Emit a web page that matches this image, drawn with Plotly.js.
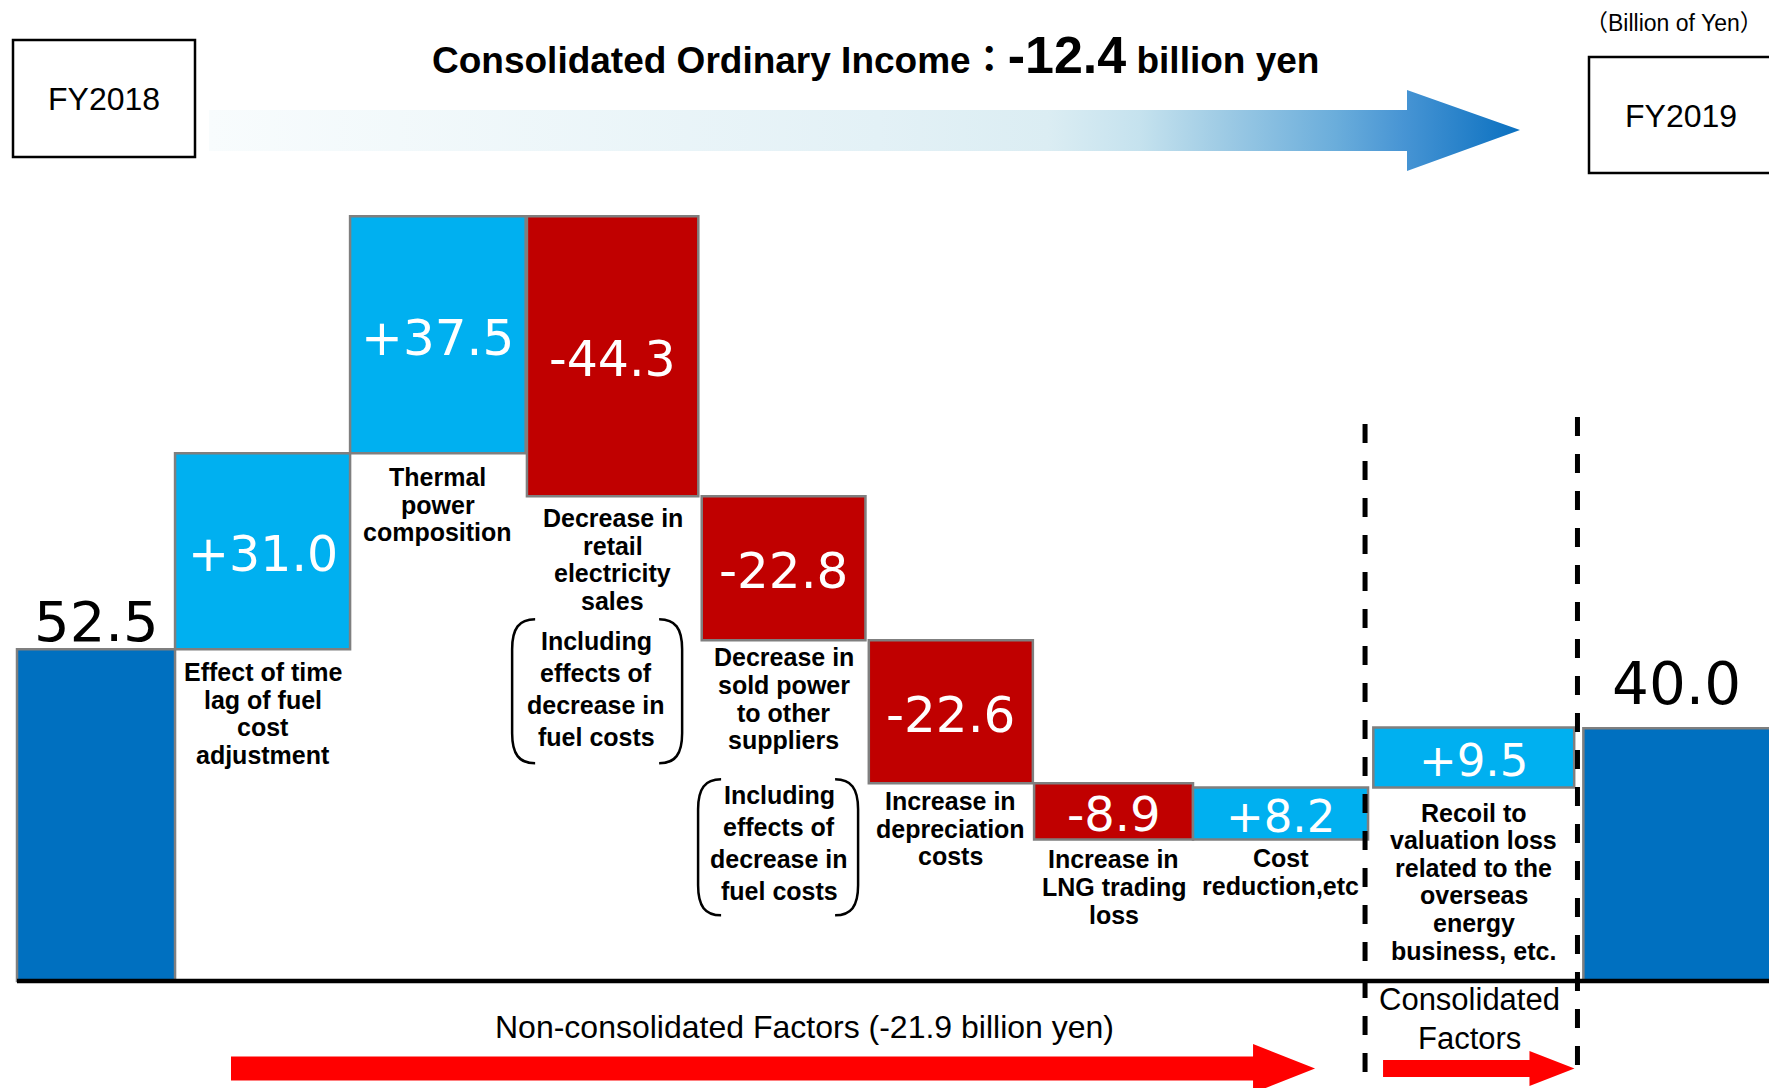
<!DOCTYPE html>
<html>
<head>
<meta charset="utf-8">
<script src="https://cdn.plot.ly/plotly-3.0.1.min.js"></script>
<style>
html,body{margin:0;padding:0;background:#ffffff;}
#chart{width:1769px;height:1088px;}
</style>
</head>
<body>
<div id="chart"></div>
<script>
// ---------------- DATA ----------------
const categories = [
  'FY2018',
  'Effect of time\nlag of fuel\ncost\nadjustment',
  'Thermal\npower\ncomposition',
  'Decrease in\nretail\nelectricity\nsales',
  'Decrease in\nsold power\nto other\nsuppliers',
  'Increase in\ndepreciation\ncosts',
  'Increase in\nLNG trading\nloss',
  'Cost\nreduction,etc',
  'Recoil to\nvaluation loss\nrelated to the\noverseas\nenergy\nbusiness, etc.',
  'FY2019'
];
const values   = [52.5, 31.0, 37.5, -44.3, -22.8, -22.6, -8.9, 8.2, 9.5, 40.0];
const measures = ['absolute','relative','relative','relative','relative','relative','relative','relative','relative','absolute'];
const valueLabels = ['52.5','+31.0','+37.5','-44.3','-22.8','-22.6','-8.9','+8.2','+9.5','40.0'];
const noteText = 'Including\neffects of\ndecrease in\nfuel costs';
const noteCategories = [3, 4];
const titleMain  = 'Consolidated Ordinary Income';
const titleValue = '-12.4';
const titleUnit  = 'billion yen';
const startBoxLabel = 'FY2018';
const endBoxLabel   = 'FY2019';
const unitLabel = '（Billion of Yen）';
const nonConsolidatedLabel = 'Non-consolidated Factors (-21.9 billion yen)';
const consolidatedLabel = 'Consolidated\nFactors';

// ---------------- STYLE / LAYOUT ----------------
const W = 1769, H = 1088;
const U = 173.3;            // px per slot unit
const LEFT_PX = 17, BASE_PX = 981, K = 6.32;   // px per billion yen
const X0 = -LEFT_PX / U, X1 = (W - LEFT_PX) / U;
const Y1 = BASE_PX / K, Y0 = -(H - BASE_PX) / K;
const xPx = x => (x - X0) / (X1 - X0) * W;
const yPx = y => (Y1 - y) / (Y1 - Y0) * H;

const slotWidths = [0.912, 1.01, 1.013, 1.004, 0.969, 0.961, 0.917, 1.01, 1.22, 1.125];
const barFill    = [1, 1, 1, 0.985, 0.975, 0.985, 1, 1, 0.95, 0.96];
const valueFontSizes = [56, 49, 50, 49, 50, 50, 48, 45, 45, 58];
const labelOffsets = [0, 23, 24, 22, 17, 18, 20, 19, 25, 0];
const LABEL_FS = 25;
const LINE_H = 27.6;
const noteStyle = {
  3: {left: -100.5, right: 69.5, textDx: -16.5, top: 123, bottom: 267, first: 145},
  4: {left: -85.5,  right: 74.5, textDx: -4.5,  top: 139, bottom: 275, first: 155}
};
const COL_UP = '#00B0F0', COL_DOWN = '#C00000', COL_TOTAL = '#0070C0';
const BOLD = 'Liberation Sans, Arial, Helvetica, sans-serif';
const NUMF = 'DejaVu Sans, Verdana, sans-serif';

// ---------------- COMPUTE WATERFALL ----------------
const bounds = [0];
slotWidths.forEach(w => bounds.push(bounds[bounds.length - 1] + w));
const centers = slotWidths.map((w, i) => bounds[i] + w / 2);
const widths  = slotWidths.map((w, i) => w * barFill[i]);
const bases = [], deltas = [], colors = [];
let level = 0;
values.forEach((v, i) => {
  if (measures[i] === 'absolute') { bases.push(0); level = v; colors.push(COL_TOTAL); }
  else { bases.push(level); level += v; colors.push(v >= 0 ? COL_UP : COL_DOWN); }
  deltas.push(v);
});

const annotations = [];
const shapes = [];
function ann(o) { annotations.push(Object.assign({showarrow: false, xref: 'x2', yref: 'y2', xanchor: 'center', yanchor: 'middle'}, o)); }
function multiLine(text, x, yFirst, lh, font) {
  text.split('\n').forEach((line, j) => ann({x: x, y: yFirst + j * lh, text: line, font: font}));
}
const boldLines = t => '<b>' + t.split('\n').join('</b>\n<b>') + '</b>';

values.forEach((v, i) => {
  const top = Math.max(bases[i], bases[i] + deltas[i]);
  const bot = Math.min(bases[i], bases[i] + deltas[i]);
  const cx = xPx(centers[i]);
  const fs = valueFontSizes[i];
  if (measures[i] === 'absolute') {
    const gap = i === 0 ? 7 : 23;
    ann({x: cx, y: yPx(top) - gap - 0.365 * fs, text: valueLabels[i], font: {family: NUMF, size: fs, color: '#000000'}});
  } else {
    ann({x: cx, y: (yPx(top) + yPx(bot)) / 2 + 3, text: valueLabels[i], font: {family: NUMF, size: fs, color: '#FFFFFF'}});
    multiLine(boldLines(categories[i]), cx, yPx(bot) + labelOffsets[i], LINE_H,
      {family: BOLD, size: LABEL_FS, color: '#000000'});
  }
});

// notes in brackets
noteCategories.forEach(i => {
  const s = noteStyle[i];
  const bot = Math.min(bases[i], bases[i] + deltas[i]);
  const cx = xPx(centers[i]);
  const yb = yPx(bot);
  multiLine(boldLines(noteText), cx + s.textDx, yb + s.first, 32,
    {family: BOLD, size: LABEL_FS, color: '#000000'});
  const xL = cx + s.left, xR = cx + s.right, yT = yb + s.top, yB = yb + s.bottom;
  const pL = `M ${xL+23},${yT} C ${xL+7},${yT} ${xL},${yT+9} ${xL},${yT+30} L ${xL},${yB-30} C ${xL},${yB-9} ${xL+7},${yB} ${xL+23},${yB}`;
  const pR = `M ${xR-23},${yT} C ${xR-7},${yT} ${xR},${yT+9} ${xR},${yT+30} L ${xR},${yB-30} C ${xR},${yB-9} ${xR-7},${yB} ${xR-23},${yB}`;
  [pL, pR].forEach(p => shapes.push({type: 'path', xref: 'x2', yref: 'y2', path: p, line: {color: '#000000', width: 2.5}}));
});

// baseline
shapes.push({type: 'line', xref: 'x2', yref: 'y', x0: LEFT_PX, x1: W, y0: 0, y1: 0, line: {color: '#000000', width: 4.5}});

// dashed separators
const dashL = xPx(bounds[8]), dashR = xPx(bounds[9]);
shapes.push({type: 'line', xref: 'x2', yref: 'y2', x0: dashL - 3, x1: dashL - 3, y0: 424, y1: 1076, line: {color: '#000000', width: 5, dash: '19px,18px'}});
shapes.push({type: 'line', xref: 'x2', yref: 'y2', x0: dashR - 2, x1: dashR - 2, y0: 417, y1: 1076, line: {color: '#000000', width: 5, dash: '19px,18px'}});

// red arrows
function arrowPath(x0, tip, headLen, yc, shaftH, headH) {
  const hb = tip - headLen;
  return `M ${x0},${yc - shaftH/2} L ${hb},${yc - shaftH/2} L ${hb},${yc - headH/2} L ${tip},${yc} L ${hb},${yc + headH/2} L ${hb},${yc + shaftH/2} L ${x0},${yc + shaftH/2} Z`;
}
shapes.push({type: 'path', xref: 'x2', yref: 'y2', path: arrowPath(231, dashL - 53, 62, 1068.5, 24, 49), fillcolor: '#FF0000', line: {width: 0}});
shapes.push({type: 'path', xref: 'x2', yref: 'y2', path: arrowPath(dashL + 15, dashR - 5, 45, 1068.5, 17, 35), fillcolor: '#FF0000', line: {width: 0}});

// top boxes
shapes.push({type: 'rect', xref: 'x2', yref: 'y2', x0: 13, x1: 195, y0: 40, y1: 157, line: {color: '#000000', width: 2.5}});
shapes.push({type: 'rect', xref: 'x2', yref: 'y2', x0: 1589, x1: 1790, y0: 57, y1: 173, line: {color: '#000000', width: 2.5}});

const REG = 'Liberation Sans, Arial, Noto Sans CJK JP, sans-serif';
ann({x: 104, y: 99, text: startBoxLabel, font: {family: REG, size: 32, color: '#000000'}});
ann({x: 1681, y: 116, text: endBoxLabel, font: {family: REG, size: 32, color: '#000000'}});
ann({x: 1674, y: 23, text: unitLabel, font: {family: REG, size: 23, color: '#000000'}});
ann({x: 875, y: 54.5, text: '<b>' + titleMain + '：<span style="font-size:52px">' + titleValue + '</span> ' + titleUnit + '</b>',
     font: {family: REG, size: 37, color: '#000000'}});
ann({x: 804, y: 1027, text: nonConsolidatedLabel, font: {family: REG, size: 32, color: '#000000'}});
multiLine(consolidatedLabel, (dashL + dashR) / 2 - 4, 999, 39, {family: REG, size: 31, color: '#000000'});

// ---------------- TRACES ----------------
const gradientArrow = {
  type: 'scatter', mode: 'lines', xaxis: 'x2', yaxis: 'y2',
  x: [209, 1407, 1407, 1520, 1407, 1407, 209, 209],
  y: [110, 110, 90, 130, 171, 151, 151, 110],
  fill: 'toself', line: {width: 0, color: 'rgba(0,0,0,0)'},
  fillgradient: {type: 'horizontal', colorscale: [
    [0, '#F8FCFD'], [0.51, '#E3F1F6'], [0.64, '#DBEDF3'], [0.71, '#C5E2EE'],
    [0.77, '#A0CCE5'], [0.86, '#6AADDB'], [0.91, '#4895D4'], [1, '#0A70C0']]},
  hoverinfo: 'skip', showlegend: false
};

const bars = {
  type: 'bar', x: centers, y: deltas, base: bases, width: widths,
  marker: {color: colors, line: {color: '#7F7F7F', width: 2.5}},
  hoverinfo: 'skip', showlegend: false, cliponaxis: false
};

const layout = {
  width: W, height: H,
  margin: {l: 0, r: 0, t: 0, b: 0},
  paper_bgcolor: '#FFFFFF', plot_bgcolor: '#FFFFFF',
  showlegend: false, hovermode: false, dragmode: false,
  xaxis: {range: [X0, X1], visible: false, fixedrange: true},
  yaxis: {range: [Y0, Y1], visible: false, fixedrange: true},
  xaxis2: {range: [0, W], overlaying: 'x', visible: false, fixedrange: true},
  yaxis2: {range: [H, 0], overlaying: 'y', visible: false, fixedrange: true},
  bargap: 0,
  shapes: shapes,
  annotations: annotations
};

Plotly.newPlot('chart', [gradientArrow, bars], layout, {displayModeBar: false, staticPlot: true});
</script>
</body>
</html>
